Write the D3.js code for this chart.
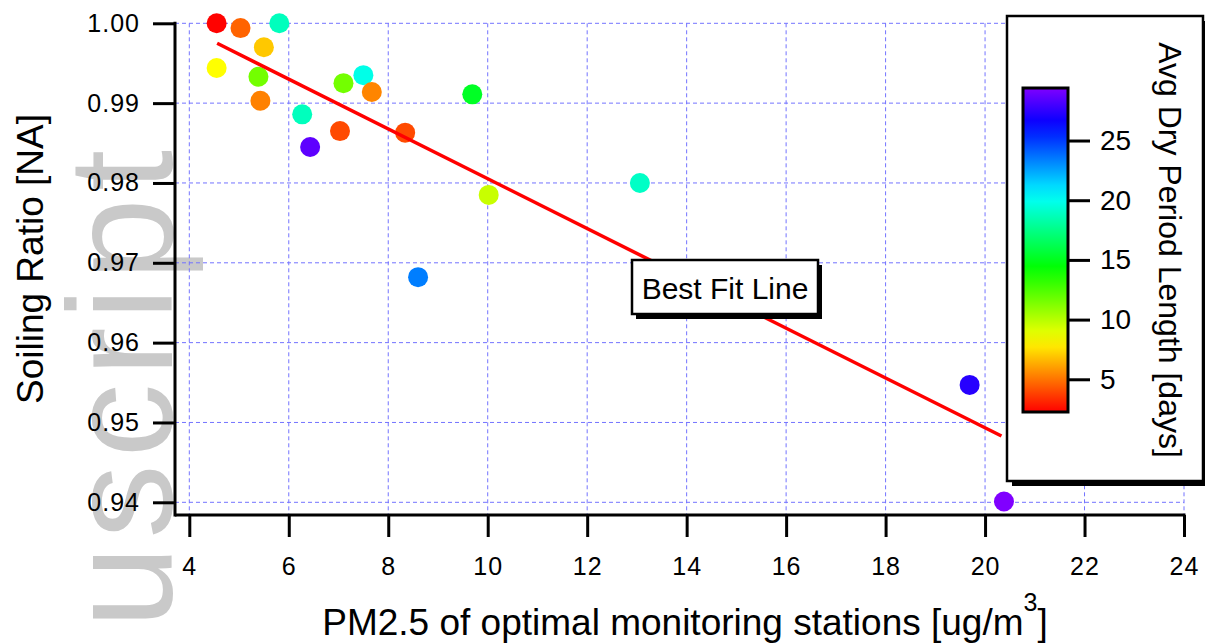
<!DOCTYPE html>
<html>
<head>
<meta charset="utf-8">
<script src="https://cdn.jsdelivr.net/npm/d3@7"></script>
<style>
  body { margin: 0; background: #fff; }
  text { font-family: "Liberation Sans", Arial, sans-serif; fill: #000; }
</style>
</head>
<body>
<script>
var width = 1205, height = 643;

// data
var pm25    = [4.55, 5.03, 5.81, 5.50, 4.55, 5.39, 5.43, 6.27, 6.43, 7.03, 7.10, 7.50, 7.67, 8.34, 9.69, 10.02, 13.06, 8.60, 19.69, 20.38];
var soiling = [1.0000, 0.9994, 1.0000, 0.9970, 0.9944, 0.9933, 0.9903, 0.9886, 0.9845, 0.9865, 0.9925, 0.9935, 0.9914, 0.9863, 0.9911, 0.9785, 0.9800, 0.9682, 0.9547, 0.9401];
var dryDays = [2.3, 4.6, 18.8, 7.0, 8.3, 11.6, 5.3, 18.8, 28.6, 4.0, 11.6, 19.8, 5.4, 4.0, 15.2, 9.6, 19.0, 23.4, 27.3, 29.4];

// best fit line end points
var fitX = [4.56, 20.33];
var fitY = [0.9975, 0.9483];

var xTicks = [4, 6, 8, 10, 12, 14, 16, 18, 20, 22, 24];
var yTicks = [0.94, 0.95, 0.96, 0.97, 0.98, 0.99, 1.00];
var cTicks = [5, 10, 15, 20, 25];
var cRange = [2.26, 29.4];

var svg = d3.select("body").append("svg")
    .attr("width", width)
    .attr("height", height);

var x = d3.scaleLinear().domain([4, 24]).range([189.3, 1184]);
var y = d3.scaleLinear().domain([0.94, 1.00]).range([502.3, 23.3]);
var axisX = 175, axisY = 515;

// rainbow colour table: red at low end -> violet at high end
var hue = d3.scaleLinear().domain(cRange).range([0, 270]);
function colour(v){ return d3.hsl(hue(v), 1, 0.5).toString(); }

// faint watermark behind everything
svg.append("text")
    .attr("transform", "translate(172,143) rotate(-90)")
    .attr("text-anchor", "end")
    .style("font-size", "148px")
    .style("letter-spacing", "7px")
    .style("fill", "#c9c9c9")
    .text("Manuscript");

// grid
var grid = svg.append("g").attr("class", "grid")
    .attr("stroke", "#7373ff").attr("stroke-width", 1).attr("stroke-dasharray", "4,3");
grid.selectAll(".gx").data(xTicks).enter().append("line")
    .attr("x1", function(d){ return x(d); }).attr("x2", function(d){ return x(d); })
    .attr("y1", y(1.00)).attr("y2", axisY);
grid.selectAll(".gy").data(yTicks).enter().append("line")
    .attr("x1", axisX).attr("x2", x(24))
    .attr("y1", function(d){ return y(d); }).attr("y2", function(d){ return y(d); });

// axes
var gLeft = svg.append("g").attr("transform", "translate(" + axisX + ",0)")
    .call(d3.axisLeft(y).tickValues(yTicks).tickSize(22).tickSizeOuter(0).tickPadding(13).tickFormat(d3.format(".2f")));
var gBottom = svg.append("g").attr("transform", "translate(0," + axisY + ")")
    .call(d3.axisBottom(x).tickValues(xTicks).tickSize(22).tickSizeOuter(0).tickPadding(20).tickFormat(d3.format("d")));
[gLeft, gBottom].forEach(function(g){
  g.select(".domain").remove();
  g.selectAll(".tick line").attr("stroke", "#000").attr("stroke-width", 3);
  g.selectAll(".tick text").style("font-size", "25px").style("letter-spacing", "1px")
    .attr("font-family", null).attr("fill", "#000");
});
svg.append("line").attr("x1", axisX).attr("x2", axisX).attr("y1", y(1.00) - 1.5).attr("y2", axisY + 1.5)
    .attr("stroke", "#000").attr("stroke-width", 3);
svg.append("line").attr("x1", axisX).attr("x2", x(24) + 1.5).attr("y1", axisY).attr("y2", axisY)
    .attr("stroke", "#000").attr("stroke-width", 3);

// points
svg.append("g").selectAll("circle")
    .data(d3.range(pm25.length))
    .enter().append("circle")
    .attr("cx", function(i){ return x(pm25[i]); })
    .attr("cy", function(i){ return y(soiling[i]); })
    .attr("r", 10)
    .attr("fill", function(i){ return colour(dryDays[i]); });

// best fit line
svg.append("line")
    .attr("x1", x(fitX[0])).attr("y1", y(fitY[0]))
    .attr("x2", x(fitX[1])).attr("y2", y(fitY[1]))
    .attr("stroke", "#ff0000").attr("stroke-width", 3.5);

// "Best Fit Line" label box
var bx = 632, by = 260, bw = 186, bh = 54;
svg.append("rect").attr("x", bx + 4).attr("y", by + 5).attr("width", bw).attr("height", bh).attr("fill", "#000");
svg.append("rect").attr("x", bx).attr("y", by).attr("width", bw).attr("height", bh)
    .attr("fill", "#fff").attr("stroke", "#000").attr("stroke-width", 2.5);
svg.append("text").attr("x", bx + bw / 2).attr("y", 299).attr("text-anchor", "middle")
    .style("font-size", "30px").text("Best Fit Line");

// axis titles
svg.append("text").attr("transform", "translate(43,259) rotate(-90)").attr("text-anchor", "middle")
    .style("font-size", "37px").text("Soiling Ratio [NA]");
var xt = svg.append("text").attr("x", 685).attr("y", 635).attr("text-anchor", "middle").style("font-size", "37px");
xt.append("tspan").text("PM2.5 of optimal monitoring stations [ug/m");
xt.append("tspan").attr("dy", -24).style("font-size", "25px").text("3");
xt.append("tspan").attr("dy", 24).text("]");

// colour scale legend
var lx = 1007, ly = 16, lw = 196, lh = 465;
svg.append("rect").attr("x", lx + 5).attr("y", ly + 5).attr("width", lw).attr("height", lh).attr("fill", "#000");
svg.append("rect").attr("x", lx).attr("y", ly).attr("width", lw).attr("height", lh)
    .attr("fill", "#fff").attr("stroke", "#000").attr("stroke-width", 2.5);

var c = d3.scaleLinear().domain(cRange).range([412, 88]);
var defs = svg.append("defs");
var grad = defs.append("linearGradient").attr("id", "rainbow")
    .attr("x1", "0%").attr("x2", "0%").attr("y1", "100%").attr("y2", "0%");
d3.range(0, 1.0001, 0.05).forEach(function(t){
  var v = cRange[0] + t * (cRange[1] - cRange[0]);
  grad.append("stop").attr("offset", (t * 100) + "%").attr("stop-color", colour(v));
});
svg.append("rect").attr("x", 1023).attr("y", c(cRange[1])).attr("width", 45)
    .attr("height", c(cRange[0]) - c(cRange[1]))
    .attr("fill", "url(#rainbow)").attr("stroke", "#000").attr("stroke-width", 3);

var gC = svg.append("g").attr("transform", "translate(1068,0)")
    .call(d3.axisRight(c).tickValues(cTicks).tickSize(22).tickSizeOuter(0).tickPadding(10));
gC.select(".domain").remove();
gC.selectAll(".tick line").attr("stroke", "#000").attr("stroke-width", 3);
gC.selectAll(".tick text").style("font-size", "28px").attr("font-family", null).attr("fill", "#000");

svg.append("text").attr("transform", "translate(1159,250) rotate(90)").attr("text-anchor", "middle")
    .style("font-size", "32px").text("Avg Dry Period Length [days]");
</script>
</body>
</html>
